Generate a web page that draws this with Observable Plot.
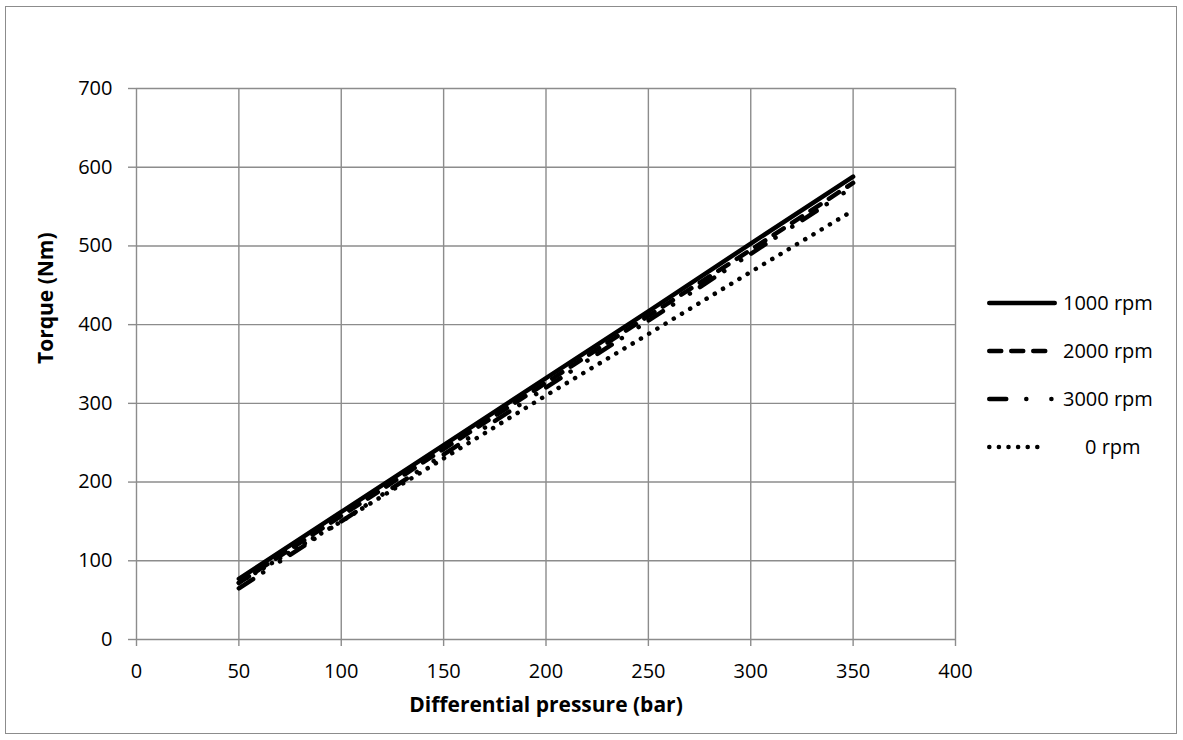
<!DOCTYPE html>
<html>
<head>
<meta charset="utf-8">
<script src="https://cdn.jsdelivr.net/npm/d3@7"></script>
<script src="https://cdn.jsdelivr.net/npm/@observablehq/plot@0.6"></script>
<style>
  body { margin: 0; background: #fff; font-family: "Open Sans", "Noto Sans", sans-serif; }
  #wrap { position: relative; width: 1183px; height: 740px; overflow: hidden; }
  #frame { position: absolute; left: 5px; top: 6px; width: 1172px; height: 728px; border: 1.4px solid #8c8c8c; box-sizing: border-box; pointer-events: none; }
  #chart { position: absolute; left: 0; top: 0; }
  #legend { position: absolute; left: 0; top: 0; }
</style>
</head>
<body>
<div id="wrap">
  <div id="frame"></div>
  <div id="chart"></div>
  <svg id="legend" width="1183" height="740"></svg>
</div>
<script>
// ---- data ----
const pressure = [50, 100, 150, 200, 250, 300, 350];
const torque1000 = [77, 162, 247, 332, 417, 503, 588];
const torque2000 = [72, 157, 242, 326, 411, 495, 580];
const torque3000 = [65, 150, 235, 320, 405, 490, 575];
const torque0 = [72, 150, 230, 310, 388, 467, 545];
const seriesNames = ["1000 rpm", "2000 rpm", "3000 rpm", "0 rpm"];
const xTicks = [0, 50, 100, 150, 200, 250, 300, 350, 400];
const yTicks = [0, 100, 200, 300, 400, 500, 600, 700];
const xTitle = "Differential pressure (bar)";
const yTitle = "Torque (Nm)";

const seriesValues = [torque1000, torque2000, torque3000, torque0];
const dashes = [null, "12,10", "17,12,0.1,20,0.1,12", "0.1,9.5"];
const legendDashes = [null, "12,10", "17,20,0.1,25,0.1,40", "0.1,9.5"];

const rows = [];
seriesNames.forEach((name, i) => {
  pressure.forEach((p, j) => rows.push({series: name, pressure: p, torque: seriesValues[i][j]}));
});

const grey = "#8c8c8c";
const font = "20px";
const titleFont = "21px";

const lineMarks = seriesNames.map((name, i) =>
  Plot.line(rows.filter(d => d.series === name), {
    x: "pressure", y: "torque",
    stroke: "black", strokeWidth: 4.5,
    strokeLinecap: "round", strokeLinejoin: "round",
    strokeDasharray: dashes[i] ?? undefined
  })
);

const chart = Plot.plot({
  width: 1183,
  height: 740,
  marginLeft: 136,
  marginRight: 228,
  marginTop: 88,
  marginBottom: 101,
  style: {fontFamily: '"Open Sans", "Noto Sans", sans-serif', fontSize: font, color: "black", background: "transparent"},
  x: {domain: [0, 400]},
  y: {domain: [0, 700]},
  marks: [
    Plot.ruleX(xTicks, {stroke: grey, strokeWidth: 1.4}),
    Plot.ruleY(yTicks, {stroke: grey, strokeWidth: 1.4}),
    Plot.axisY({ticks: yTicks, tickSize: 8, tickPadding: 16, stroke: grey, strokeWidth: 1.4, fontSize: font, label: null, tickFormat: d => String(d)}),
    Plot.axisX({ticks: xTicks, tickSize: 7, tickPadding: 17, stroke: grey, strokeWidth: 1.4, fontSize: font, label: null, tickFormat: d => String(d)}),
    ...lineMarks,
    Plot.text([yTitle], {frameAnchor: "left", dx: -90, rotate: -90, fontWeight: "bold", fontSize: titleFont}),
    Plot.text([xTitle], {frameAnchor: "bottom", dy: 72, fontWeight: "bold", fontSize: titleFont})
  ]
});
document.getElementById("chart").appendChild(chart);

// ---- legend ----
const leg = d3.select("#legend");
const legX0 = 987, legTextX = 1063;
const legY = [303, 351, 399, 447];
const legEnds = [1057, 1049, 1055, 1049];
seriesNames.forEach((name, i) => {
  leg.append("line")
    .attr("x1", legX0 + 2.25).attr("x2", legEnds[i] - 2.25)
    .attr("y1", legY[i]).attr("y2", legY[i])
    .attr("stroke", "black").attr("stroke-width", 4.5)
    .attr("stroke-linecap", "round")
    .attr("stroke-dasharray", legendDashes[i] ?? null);
  leg.append("text")
    .attr("x", name === "0 rpm" ? legTextX + 22 : legTextX)
    .attr("y", legY[i])
    .attr("dy", "0.35em")
    .attr("font-family", '"Open Sans", "Noto Sans", sans-serif')
    .attr("font-size", font)
    .attr("fill", "black")
    .text(name);
});
</script>
</body>
</html>
